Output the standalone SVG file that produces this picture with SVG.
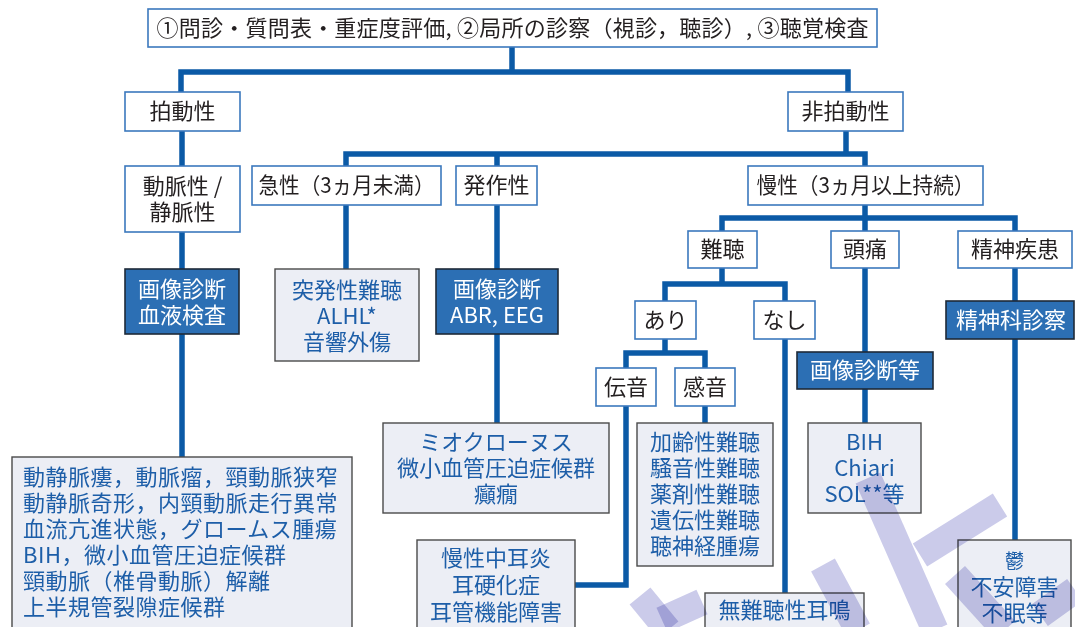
<svg xmlns="http://www.w3.org/2000/svg" width="1075" height="627" viewBox="0 0 1075 627">
<style>
text{font-family:"Noto Sans CJK JP","Noto Sans",sans-serif;font-size:22px;text-anchor:middle}
.w rect{fill:#fff;stroke:#3b78bd;stroke-width:1.6}
.w text{fill:#231f20}
.d rect{fill:#2c6fb4;stroke:#1e2a38;stroke-width:1.6}
.d text{fill:#fff}
.l rect{fill:#eceef5;stroke:#4a4a4a;stroke-width:1.4}
.l text{fill:#1d5ea8}
.st{text-anchor:start;letter-spacing:0.5px}
#connectors path{fill:none;stroke:#0b5aa6;stroke-width:5.5;stroke-linejoin:miter;stroke-linecap:square}
.wm line{stroke:#cbcbea;stroke-width:27;mix-blend-mode:multiply}
</style>
<rect width="1075" height="627" fill="#fff"/>
<g id="connectors">
<path d="M181,92 V72 H848 V92 M512,47 V72"/>
<path d="M182,131 V166 M182,232 V270 M182,334 V457"/>
<path d="M346,166 V154 H865 V166 M497,154 V166 M846,131 V154"/>
<path d="M346,205 V270"/>
<path d="M497,205 V270 M497,334 V423"/>
<path d="M722,231 V218 H1015 V231 M865,205 V231"/>
<path d="M665,301 V284 H785 V301 M722,267 V284"/>
<path d="M626,368 V353 H705 V368 M665,339 V353"/>
<path d="M626,406 V585 H577"/>
<path d="M705,406 V423"/>
<path d="M785,339 V593"/>
<path d="M865,267 V352 M865,389 V423"/>
<path d="M1015,267 V301 M1015,339 V540"/>
</g>
<g id="n-top" class="w"><rect x="148" y="9" width="729" height="38"/><text x="512.5" y="36" textLength="712" lengthAdjust="spacing">①問診・質問表・重症度評価, ②局所の診察（視診，聴診）, ③聴覚検査</text></g>
<g id="n-pulsatile" class="w"><rect x="125" y="92" width="115" height="39"/><text x="182.5" y="119">拍動性</text></g>
<g id="n-nonpulsatile" class="w"><rect x="788" y="92" width="115" height="39"/><text x="845.5" y="119">非拍動性</text></g>
<g id="n-arteriovenous" class="w"><rect x="125" y="166" width="115" height="66"/><text x="182.5" y="194">動脈性 /</text><text x="182.5" y="220">静脈性</text></g>
<g id="n-acute" class="w"><rect x="252" y="166" width="189" height="39"/><text x="346.5" y="193" textLength="176" lengthAdjust="spacingAndGlyphs">急性（3ヵ月未満）</text></g>
<g id="n-paroxysmal" class="w"><rect x="456" y="166" width="81" height="39"/><text x="496.5" y="193">発作性</text></g>
<g id="n-chronic" class="w"><rect x="748" y="166" width="235" height="39"/><text x="865.5" y="193" textLength="218" lengthAdjust="spacingAndGlyphs">慢性（3ヵ月以上持続）</text></g>
<g id="n-hearingloss" class="w"><rect x="688" y="231" width="69" height="37"/><text x="722.5" y="257">難聴</text></g>
<g id="n-headache" class="w"><rect x="831" y="231" width="68" height="37"/><text x="865" y="257">頭痛</text></g>
<g id="n-psych" class="w"><rect x="958" y="231" width="114" height="37"/><text x="1015" y="257">精神疾患</text></g>
<g id="n-yes" class="w"><rect x="635" y="301" width="61" height="38"/><text x="665.5" y="328">あり</text></g>
<g id="n-no" class="w"><rect x="754" y="301" width="61" height="38"/><text x="784.5" y="328">なし</text></g>
<g id="n-conductive" class="w"><rect x="596" y="368" width="60" height="38"/><text x="626" y="395">伝音</text></g>
<g id="n-sensorineural" class="w"><rect x="675" y="368" width="60" height="38"/><text x="705" y="395">感音</text></g>
<g id="n-img1" class="d"><rect x="125" y="269" width="114" height="65"/><text x="182" y="297">画像診断</text><text x="182" y="323">血液検査</text></g>
<g id="n-img2" class="d"><rect x="436" y="269" width="122" height="65"/><text x="497" y="297">画像診断</text><text x="497" y="323">ABR, EEG</text></g>
<g id="n-img3" class="d"><rect x="797" y="352" width="136" height="37"/><text x="865" y="378">画像診断等</text></g>
<g id="n-psychexam" class="d"><rect x="946" y="301" width="128" height="38"/><text x="1011" y="328">精神科診察</text></g>
<g id="n-sudden" class="l"><rect x="275" y="269" width="144" height="92"/><text x="347" y="298">突発性難聴</text><text x="347" y="324">ALHL*</text><text x="347" y="350">音響外傷</text></g>
<g id="n-myoclonus" class="l"><rect x="383" y="423" width="226" height="90"/><text x="496" y="450">ミオクローヌス</text><text x="496" y="476">微小血管圧迫症候群</text><text x="496" y="502">癲癇</text></g>
<g id="n-vascular" class="l"><rect x="12" y="457" width="340" height="180"/>
<text x="23" y="485" class="st">動静脈瘻，動脈瘤，頸動脈狭窄</text>
<text x="23" y="511" class="st">動静脈奇形，内頸動脈走行異常</text>
<text x="23" y="537" class="st">血流亢進状態，グロームス腫瘍</text>
<text x="23" y="563" class="st">BIH，微小血管圧迫症候群</text>
<text x="23" y="589" class="st">頸動脈（椎骨動脈）解離</text>
<text x="23" y="615" class="st">上半規管裂隙症候群</text></g>
<g id="n-otitis" class="l"><rect x="417" y="540" width="158" height="100"/><text x="496" y="566">慢性中耳炎</text><text x="496" y="593">耳硬化症</text><text x="496" y="620">耳管機能障害</text></g>
<g id="n-presbycusis" class="l"><rect x="637" y="423" width="136" height="143"/><text x="705" y="450">加齢性難聴</text><text x="705" y="476">騒音性難聴</text><text x="705" y="502">薬剤性難聴</text><text x="705" y="528">遺伝性難聴</text><text x="705" y="554">聴神経腫瘍</text></g>
<g id="n-tinnitus" class="l"><rect x="705" y="593" width="159" height="45"/><text x="784.5" y="618">無難聴性耳鳴</text></g>
<g id="n-bih" class="l"><rect x="808" y="423" width="113" height="90"/><text x="864.5" y="450">BIH</text><text x="864.5" y="476">Chiari</text><text x="864.5" y="502">SOL**等</text></g>
<g id="n-depression" class="l"><rect x="958" y="540" width="113" height="100"/><text x="1014.5" y="568" style="font-size:19px">鬱</text><text x="1014.5" y="595">不安障害</text><text x="1014.5" y="621">不眠等</text></g>
<g class="wm">
<line x1="640" y1="596" x2="668" y2="630"/>
<line x1="662" y1="620" x2="702" y2="602"/>
<line x1="823" y1="565" x2="858" y2="630"/>
<line x1="868" y1="478" x2="935" y2="630"/>
<line x1="920" y1="555" x2="1000" y2="505"/>
<line x1="955" y1="575" x2="1005" y2="630"/>
<line x1="1040" y1="615" x2="1075" y2="590"/>
</g>
</svg>
